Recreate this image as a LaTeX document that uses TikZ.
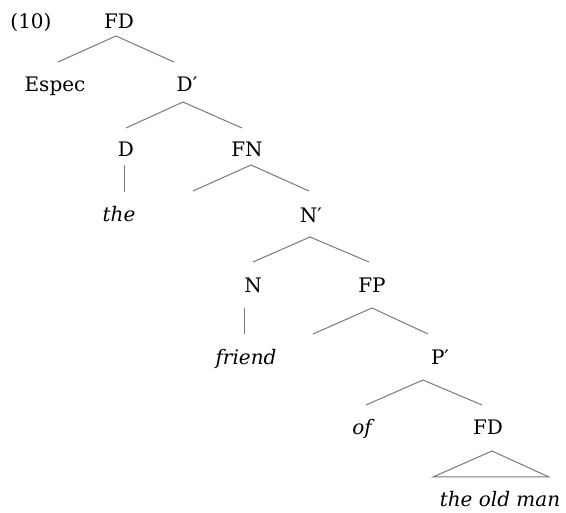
\documentclass[tikz,border=0pt]{standalone}
\usepackage{fontspec}
\setmainfont{DejaVu Serif}
\usetikzlibrary{calc}
\begin{document}
\begin{tikzpicture}[x=1pt,y=-1pt,
  lbl/.style={inner sep=0pt,anchor=base,font=\fontsize{20}{24}\selectfont},
  word/.style={lbl,font=\fontsize{20}{24}\selectfont\itshape},
  branch/.style={draw=black!52,line width=1pt}]
\useasboundingbox (0,0) rectangle (566,513);

% labels, placed by their baselines
\node[lbl] (ex)    at (31,29)   {(10)};
\node[lbl] (fd1)   at (119,29)  {FD};
\node[lbl] (espec) at (55,92)   {Espec};
\node[lbl] (dbar)  at (187,92)  {D′};
\node[lbl] (d)     at (126,157) {D};
\node[lbl] (fn)    at (247,157) {FN};
\node[word] (the)  at (119,222) {the};
\node[lbl] (nbar)  at (311,223) {N′};
\node[lbl] (n)     at (253,293) {N};
\node[lbl] (fp)    at (372,293) {FP};
\node[word] (friend) at (246,365) {friend};
\node[lbl] (pbar)  at (440,365) {P′};
\node[word] (of)   at (362,435) {of};
\node[lbl] (fd2)   at (488,435) {FD};
\node[word] (oldman) at (500,507) {the old man};

% empty specifier positions
\coordinate (spec1) at (193,191);
\coordinate (spec2) at (313,334);

% branches
\draw[branch] ($(espec.base)+(3,-30)$) -- ($(fd1.base)+(-3,7)$) -- ($(dbar.base)+(-13,-30)$);
\draw[branch] ($(d.base)+(0,-29)$) -- ($(dbar.base)+(-4,10)$) -- ($(fn.base)+(-5,-29)$);
\draw[branch] ($(d.base)+(-2,8)$) -- ($(the.base)+(5,-30)$);
\draw[branch] (spec1) -- ($(fn.base)+(4,8)$) -- ($(nbar.base)+(-2,-32)$);
\draw[branch] ($(n.base)+(0,-31)$) -- ($(nbar.base)+(-1,14)$) -- ($(fp.base)+(-3,-31)$);
\draw[branch] ($(n.base)+(-9,15)$) -- ($(friend.base)+(-2,-31)$);
\draw[branch] (spec2) -- ($(fp.base)+(0,15)$) -- ($(pbar.base)+(-12,-31)$);
\draw[branch] ($(of.base)+(4,-30)$) -- ($(pbar.base)+(-17,15)$) -- ($(fd2.base)+(-6,-30)$);
\draw[branch] ($(oldman.base)+(-67,-30)$) -- ($(fd2.base)+(4,16)$) -- ($(oldman.base)+(49,-30)$) -- cycle;
\end{tikzpicture}
\end{document}
